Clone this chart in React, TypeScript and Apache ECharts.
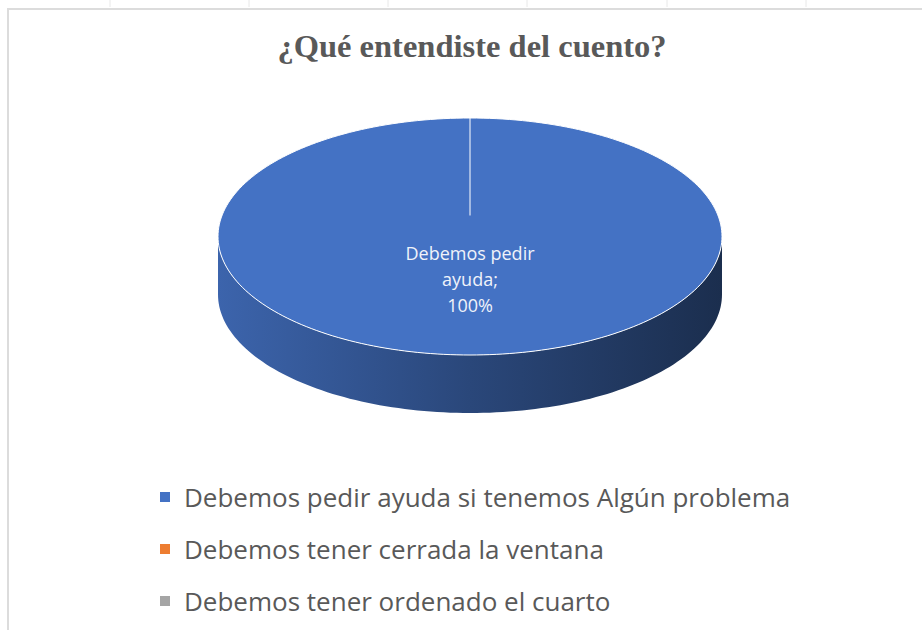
import React, { useEffect, useRef } from "react";
import * as echarts from "echarts";

const chartTitle = "¿Qué entendiste del cuento?";
const categories = [
  "Debemos pedir ayuda si tenemos Algún problema",
  "Debemos tener cerrada la ventana",
  "Debemos tener ordenado el cuarto",
];
const labelNames = [
  "Debemos pedir\nayuda",
  "Debemos tener\ncerrada la ventana",
  "Debemos tener\nordenado el cuarto",
];
const values = [100, 0, 0];
const colors = ["#4472C4", "#ED7D31", "#A5A5A5"];

// layout of the 3D pie (pixels)
const PIE = { cx: 470, cy: 236.5, rx: 252, ry: 118.5, depth: 58, centerLift: 21 };
const LABEL_R = 0.36;

const total = values.reduce((a, b) => a + b, 0);

function shade(color: string, f: number): string {
  const c = echarts.color.parse(color) as number[];
  const r = Math.round(c[0] * f);
  const g = Math.round(c[1] * f);
  const b = Math.round(c[2] * f);
  return "rgb(" + r + "," + g + "," + b + ")";
}

function pt(theta: number, dy = 0): number[] {
  return [PIE.cx + PIE.rx * Math.sin(theta), PIE.cy - PIE.ry * Math.cos(theta) + dy];
}

function arcPoints(a: number, b: number, dy = 0): number[][] {
  const pts: number[][] = [];
  const n = Math.max(2, Math.ceil(((b - a) / (Math.PI * 2)) * 240));
  for (let k = 0; k <= n; k++) pts.push(pt(a + ((b - a) * k) / n, dy));
  return pts;
}

function renderSlice(params: any, api: any) {
  const i = params.seriesIndex;
  const v = values[i];
  if (!v || v <= 0) return null;
  const before = values.slice(0, i).reduce((a, b) => a + b, 0);
  const start = (before / total) * Math.PI * 2;
  const end = ((before + v) / total) * Math.PI * 2;
  const full = v >= total;
  const color = colors[i];
  const center = [PIE.cx, PIE.cy - PIE.centerLift];
  const children: any[] = [];

  // side (front, visible between 90deg and 270deg)
  const a = Math.max(start, Math.PI / 2);
  const b = Math.min(end, (Math.PI * 3) / 2);
  if (b > a) {
    const topEdge = arcPoints(a, b, 0);
    const botEdge = arcPoints(a, b, PIE.depth).reverse();
    children.push({
      type: "polygon",
      shape: { points: topEdge.concat(botEdge) },
      style: {
        fill: new echarts.graphic.LinearGradient(0, 0, 1, 0, [
          { offset: 0, color: shade(color, 0.88) },
          { offset: 0.5, color: shade(color, 0.62) },
          { offset: 1, color: shade(color, 0.4) },
        ]),
        stroke: "none",
      },
    });
  }

  // top face
  const topPts = arcPoints(start, end, 0);
  if (!full) topPts.push(center);
  children.push({
    type: "polygon",
    shape: { points: topPts },
    style: { fill: color, stroke: "#ffffff", lineWidth: 1 },
  });
  // radial border line at start
  const s = pt(start);
  children.push({
    type: "line",
    shape: { x1: center[0], y1: center[1], x2: s[0], y2: s[1] },
    style: { stroke: "#ffffff", lineWidth: 1 },
  });

  // label
  const mid = (start + end) / 2;
  const lx = PIE.cx + PIE.rx * LABEL_R * Math.sin(mid);
  const ly = PIE.cy - PIE.ry * LABEL_R * Math.cos(mid);
  const pct = Math.round((v / total) * 100);
  children.push({
    type: "text",
    x: lx,
    y: ly,
    style: {
      text: labelNames[i] + ";\n" + pct + "%",
      fill: "#F0F3FA",
      fontSize: 18,
      fontFamily: "Open Sans",
      lineHeight: 26,
      align: "center",
      verticalAlign: "middle",
    },
  });

  return { type: "group", children };
}

export default function App() {
  const ref = useRef<HTMLDivElement>(null);
  useEffect(() => {
    if (!ref.current) return;
    const chart = echarts.init(ref.current, undefined, { renderer: "svg" });
    const ticks = [110, 249, 388, 527, 667, 806];
    chart.setOption({
      animation: false,
      backgroundColor: "#ffffff",
      title: {
        text: chartTitle,
        left: 467,
        top: 24,
        textAlign: "center",
        textStyle: {
          fontFamily: "Liberation Serif",
          fontWeight: "bold",
          fontSize: 32.5,
          color: "#595959",
        },
      },
      legend: {
        orient: "vertical",
        left: 155,
        top: 479,
        icon: "rect",
        itemWidth: 10,
        itemHeight: 10,
        itemGap: 26,
        selectedMode: false,
        data: categories,
        textStyle: {
          fontFamily: "Open Sans",
          fontSize: 26,
          color: "#595959",
          padding: [0, 0, 0, 9],
        },
      },
      graphic: [
        {
          type: "line",
          shape: { x1: 7, y1: 9, x2: 922, y2: 9 },
          style: { stroke: "#DCDCDC", lineWidth: 2 },
        },
        {
          type: "line",
          shape: { x1: 8, y1: 9, x2: 8, y2: 630 },
          style: { stroke: "#DCDCDC", lineWidth: 2 },
        },
        ...ticks.map((x) => ({
          type: "line",
          shape: { x1: x, y1: 0, x2: x, y2: 7 },
          style: { stroke: "#E8E8E8", lineWidth: 1 },
        })),
      ],
      series: categories.map((name, i) => ({
        type: "custom",
        name,
        coordinateSystem: "none",
        itemStyle: { color: colors[i] },
        renderItem: renderSlice,
        data: [[values[i]]],
      })),
    });
    return () => chart.dispose();
  }, []);
  return (
    <div
      ref={ref}
      style={{ position: "fixed", left: 0, top: 0, width: 922, height: 630 }}
    />
  );
}
